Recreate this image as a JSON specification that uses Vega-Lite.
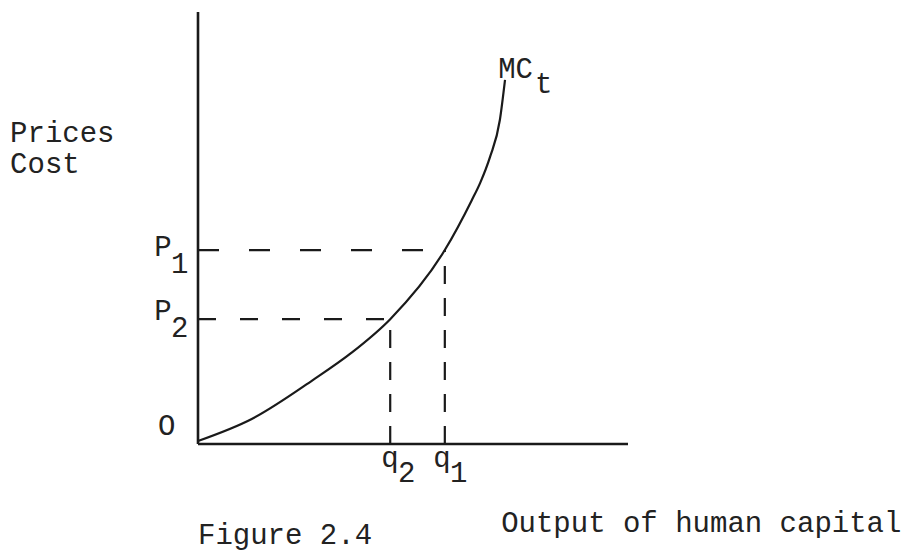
{
  "$schema": "https://vega.github.io/schema/vega-lite/v6.json",
  "autosize": "none",
  "padding": {"left": 198, "top": 12, "right": 278, "bottom": 111},
  "width": 430,
  "height": 432,
  "background": "white",
  "config": {"view": {"stroke": null}},
  "datasets": {
    "curve": [
      {"q": 0, "cost": 0.07},
      {"q": 1.25, "cost": 0.58},
      {"q": 2.67, "cost": 1.48},
      {"q": 3.58, "cost": 2.12},
      {"q": 4.47, "cost": 2.89},
      {"q": 5.74, "cost": 4.49},
      {"q": 6.37, "cost": 5.65},
      {"q": 6.56, "cost": 6.04},
      {"q": 6.79, "cost": 6.64},
      {"q": 7.02, "cost": 7.5},
      {"q": 7.14, "cost": 8.43}
    ],
    "axes": [
      {"x": 0, "x2": 0, "y": 0, "y2": 10},
      {"x": 0, "x2": 10, "y": 0, "y2": 0}
    ],
    "hP1": [{"x": 0, "x2": 5.74, "y": 4.49, "y2": 4.49}],
    "hP2": [{"x": 0, "x2": 4.47, "y": 2.89, "y2": 2.89}],
    "vert": [
      {"x": 5.74, "x2": 5.74, "y": 0, "y2": 4.49},
      {"x": 4.47, "x2": 4.47, "y": 0, "y2": 2.89}
    ],
    "labels": [
      {"label": "Prices", "x": -4.37, "y": 6.99},
      {"label": "Cost", "x": -4.37, "y": 6.27},
      {"label": "P", "x": -1.02, "y": 4.35},
      {"label": "1", "x": -0.63, "y": 3.96},
      {"label": "P", "x": -1.02, "y": 2.87},
      {"label": "2", "x": -0.63, "y": 2.48},
      {"label": "O", "x": -0.93, "y": 0.21},
      {"label": "q", "x": 4.26, "y": -0.53},
      {"label": "2", "x": 4.65, "y": -0.88},
      {"label": "q", "x": 5.47, "y": -0.53},
      {"label": "1", "x": 5.86, "y": -0.88},
      {"label": "MC", "x": 6.98, "y": 8.47},
      {"label": "t", "x": 7.84, "y": 8.13},
      {"label": "Figure 2.4", "x": 0, "y": -2.32},
      {"label": "Output of human capital", "x": 7.05, "y": -2.04}
    ]
  },
  "layer": [
    {
      "data": {"name": "axes"},
      "mark": {"type": "rule", "color": "#1a1a1a", "strokeWidth": 2.6},
      "encoding": {
        "x": {"field": "x", "type": "quantitative", "scale": {"domain": [0, 10], "nice": false, "zero": false}, "axis": null},
        "x2": {"field": "x2"},
        "y": {"field": "y", "type": "quantitative", "scale": {"domain": [0, 10], "nice": false, "zero": false}, "axis": null},
        "y2": {"field": "y2"}
      }
    },
    {
      "data": {"name": "hP1"},
      "mark": {"type": "rule", "color": "#1a1a1a", "strokeWidth": 2.2, "strokeDash": [21, 30]},
      "encoding": {
        "x": {"field": "x", "type": "quantitative"},
        "x2": {"field": "x2"},
        "y": {"field": "y", "type": "quantitative"},
        "y2": {"field": "y2"}
      }
    },
    {
      "data": {"name": "hP2"},
      "mark": {"type": "rule", "color": "#1a1a1a", "strokeWidth": 2.2, "strokeDash": [18, 24]},
      "encoding": {
        "x": {"field": "x", "type": "quantitative"},
        "x2": {"field": "x2"},
        "y": {"field": "y", "type": "quantitative"},
        "y2": {"field": "y2"}
      }
    },
    {
      "data": {"name": "vert"},
      "mark": {"type": "rule", "color": "#1a1a1a", "strokeWidth": 2.2, "strokeDash": [18, 14]},
      "encoding": {
        "x": {"field": "x", "type": "quantitative"},
        "x2": {"field": "x2"},
        "y": {"field": "y", "type": "quantitative"},
        "y2": {"field": "y2"}
      }
    },
    {
      "data": {"name": "curve"},
      "mark": {"type": "line", "color": "#1a1a1a", "strokeWidth": 2.2, "interpolate": "monotone"},
      "encoding": {
        "x": {"field": "q", "type": "quantitative"},
        "y": {"field": "cost", "type": "quantitative"}
      }
    },
    {
      "data": {"name": "labels"},
      "mark": {"type": "text", "align": "left", "baseline": "alphabetic", "font": "Liberation Mono", "fontSize": 29, "color": "#222222"},
      "encoding": {
        "x": {"field": "x", "type": "quantitative"},
        "y": {"field": "y", "type": "quantitative"},
        "text": {"field": "label"}
      }
    }
  ]
}
